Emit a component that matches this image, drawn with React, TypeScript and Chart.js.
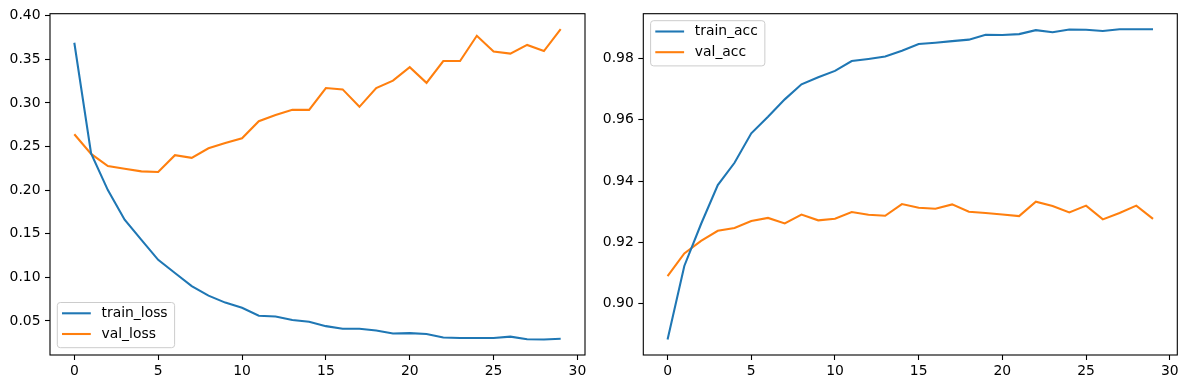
import { useEffect, useRef } from "react";
import { Chart, registerables } from "chart.js";

Chart.register(...registerables);

const epochs = [0, 1, 2, 3, 4, 5, 6, 7, 8, 9, 10, 11, 12, 13, 14, 15, 16, 17, 18, 19, 20, 21, 22, 23, 24, 25, 26, 27, 28, 29];

const trainLoss = [0.369, 0.242, 0.2, 0.166, 0.143, 0.12, 0.105, 0.09, 0.079, 0.071, 0.065, 0.056, 0.055, 0.051, 0.049, 0.044, 0.041, 0.041, 0.039, 0.0355, 0.036, 0.035, 0.031, 0.0305, 0.0305, 0.0305, 0.032, 0.029, 0.0287, 0.0295];
const valLoss = [0.264, 0.2415, 0.2275, 0.2245, 0.2215, 0.2208, 0.24, 0.237, 0.248, 0.254, 0.2595, 0.279, 0.286, 0.292, 0.292, 0.317, 0.3155, 0.2955, 0.317, 0.3255, 0.341, 0.323, 0.348, 0.348, 0.377, 0.359, 0.3565, 0.3665, 0.3595, 0.3845];

const trainAcc = [0.8883, 0.9123, 0.926, 0.9387, 0.946, 0.9556, 0.961, 0.9667, 0.9716, 0.9739, 0.976, 0.9792, 0.9799, 0.9807, 0.9826, 0.9848, 0.9852, 0.9857, 0.9862, 0.9878, 0.9877, 0.988, 0.9893, 0.9886, 0.9895, 0.9894, 0.989, 0.9896, 0.9896, 0.9896];
const valAcc = [0.909, 0.9164, 0.9205, 0.9238, 0.9247, 0.927, 0.928, 0.9262, 0.9291, 0.9272, 0.9277, 0.9299, 0.929, 0.9287, 0.9325, 0.9313, 0.931, 0.9324, 0.93, 0.9296, 0.9291, 0.9286, 0.9333, 0.9319, 0.9298, 0.932, 0.9275, 0.9296, 0.932, 0.9277];

const epochTicks = [0, 5, 10, 15, 20, 25, 30];
const lossTicks = [0.05, 0.1, 0.15, 0.2, 0.25, 0.3, 0.35, 0.4];
const accTicks = [0.9, 0.92, 0.94, 0.96, 0.98];

const BLUE = "#1f77b4";
const ORANGE = "#ff7f0e";
const FONT = "DejaVu Sans";
const FONT_SIZE = 13.9;

function limits(vals: number[]) {
  const mn = Math.min(...vals);
  const mx = Math.max(...vals);
  const m = (mx - mn) * 0.05;
  return [mn - m, mx + m];
}

const frameLegendPlugin = {
  id: "frameLegend",
  afterDraw(chart: any, _args: any, opts: any) {
    const { ctx, chartArea: a } = chart;
    ctx.save();
    ctx.strokeStyle = "#000";
    ctx.lineWidth = 1.1;
    ctx.strokeRect(a.left, a.top, a.right - a.left, a.bottom - a.top);

    const items = chart.data.datasets.map((d: any) => ({ label: d.label, color: d.borderColor }));
    ctx.font = `${FONT_SIZE}px "${FONT}"`;
    const maxW = Math.max(...items.map((i: any) => ctx.measureText(i.label).width));
    const boxW = 44.2 + maxW + 7;
    const boxH = 45.2;
    const x = a.left + 7.3;
    const y = opts.position === "lower left" ? a.bottom - 7.3 - boxH : a.top + 7;
    ctx.beginPath();
    ctx.roundRect(x, y, boxW, boxH, 3);
    ctx.fillStyle = "rgba(255,255,255,0.8)";
    ctx.fill();
    ctx.strokeStyle = "#cccccc";
    ctx.lineWidth = 1;
    ctx.stroke();
    items.forEach((it: any, i: number) => {
      const cy = y + 10.8 + i * 20.7;
      ctx.beginPath();
      ctx.moveTo(x + 4.7, cy);
      ctx.lineTo(x + 4.7 + 28.8, cy);
      ctx.strokeStyle = it.color;
      ctx.lineWidth = 2.08;
      ctx.stroke();
      ctx.fillStyle = "#000";
      ctx.textBaseline = "middle";
      ctx.textAlign = "left";
      ctx.fillText(it.label, x + 44.2, cy);
    });
    ctx.restore();
  },
};

type PanelProps = {
  left: number;
  width: number;
  yAxisWidth: number;
  padRight: number;
  series: { label: string; data: number[]; color: string }[];
  yTicks: number[];
  legendPos: string;
};

function Panel({ left, width, yAxisWidth, padRight, series, yTicks, legendPos }: PanelProps) {
  const ref = useRef<HTMLCanvasElement>(null);
  useEffect(() => {
    if (!ref.current) return;
    const all = series.flatMap((s) => s.data);
    const [ymin, ymax] = limits(all);
    const [xmin, xmax] = limits(epochs);
    const chart = new Chart(ref.current, {
      type: "line",
      data: {
        datasets: series.map((s) => ({
          label: s.label,
          data: epochs.map((e, i) => ({ x: e, y: s.data[i] })),
          borderColor: s.color,
          backgroundColor: s.color,
          borderWidth: 2.08,
          pointRadius: 0,
          tension: 0,
          fill: false,
        })),
      },
      options: {
        animation: false,
        responsive: false,
        devicePixelRatio: 1,
        layout: { padding: { left: 0, top: 13.7, right: padRight, bottom: 0 } },
        plugins: {
          legend: { display: false },
          tooltip: { enabled: false },
          frameLegend: { position: legendPos },
        } as any,
        scales: {
          x: {
            type: "linear",
            min: xmin,
            max: xmax,
            border: { display: false },
            grid: { display: true, drawOnChartArea: false, drawTicks: true, tickLength: 5, tickWidth: 1.1, tickColor: "#000" },
            ticks: {
              color: "#000",
              padding: 3,
              font: { family: FONT, size: FONT_SIZE },
              maxRotation: 0,
              callback: (v: any) => String(v),
            },
            afterBuildTicks: (s: any) => {
              s.ticks = epochTicks.map((v) => ({ value: v }));
            },
            afterFit: (s: any) => {
              s.height = 34;
            },
          },
          y: {
            type: "linear",
            min: ymin,
            max: ymax,
            border: { display: false },
            grid: { display: true, drawOnChartArea: false, drawTicks: true, tickLength: 5, tickWidth: 1.1, tickColor: "#000" },
            ticks: {
              color: "#000",
              padding: 4.5,
              font: { family: FONT, size: FONT_SIZE },
              callback: (v: any) => Number(v).toFixed(2),
            },
            afterBuildTicks: (s: any) => {
              s.ticks = yTicks.map((v) => ({ value: v }));
            },
            afterFit: (s: any) => {
              s.width = yAxisWidth;
            },
          },
        },
      },
      plugins: [frameLegendPlugin as any],
    });
    return () => chart.destroy();
  }, []);
  return (
    <canvas
      ref={ref}
      width={width}
      height={389}
      style={{ position: "absolute", left, top: 0, width, height: 389 }}
    />
  );
}

export default function App() {
  return (
    <div style={{ position: "absolute", left: 0, top: 0, width: 1188, height: 389, background: "#fff" }}>
      <Panel
        left={0}
        width={600}
        yAxisWidth={50}
        padRight={15}
        yTicks={lossTicks}
        legendPos="lower left"
        series={[
          { label: "train_loss", data: trainLoss, color: BLUE },
          { label: "val_loss", data: valLoss, color: ORANGE },
        ]}
      />
      <Panel
        left={600}
        width={588}
        yAxisWidth={43.3}
        padRight={10.7}
        yTicks={accTicks}
        legendPos="upper left"
        series={[
          { label: "train_acc", data: trainAcc, color: BLUE },
          { label: "val_acc", data: valAcc, color: ORANGE },
        ]}
      />
    </div>
  );
}
